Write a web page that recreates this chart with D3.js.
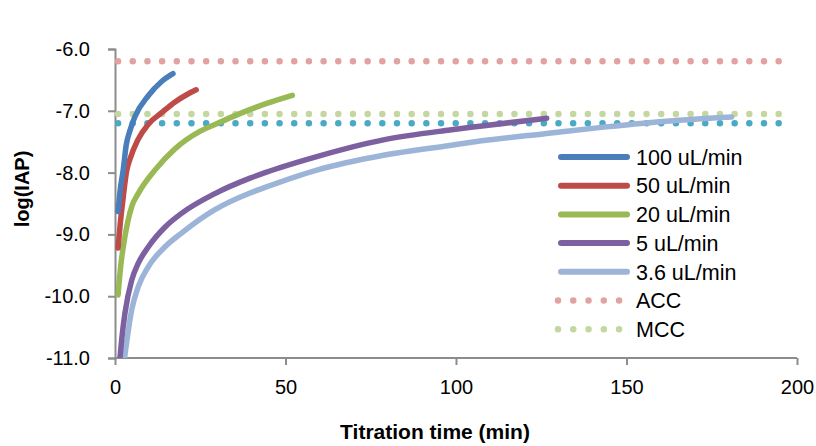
<!DOCTYPE html>
<html><head><meta charset="utf-8">
<script src="https://cdn.jsdelivr.net/npm/d3@7"></script>
<style>body{margin:0;background:#fff}svg{display:block}text{font-family:"Liberation Sans",Arial,sans-serif;fill:#000}</style>
</head><body><svg id="c" width="816" height="446"></svg>
<script>
const seriesNames = ["100 uL/min","50 uL/min","20 uL/min","5 uL/min","3.6 uL/min"];
const seriesColors = ["#4a7ebb","#be4b48","#98b954","#7d60a0","#9bb4d8"];
const t100 = [0.9,1.6,2.4,3.3,4.5,5.8,9.7,13.6,17];
const v100 = [-8.63,-8.25,-7.96,-7.55,-7.3,-7.1,-6.76,-6.53,-6.40];
const t50 = [0.9,1.5,2.3,3.4,4.4,6.7,9.7,13.7,17.5,21,23.8];
const v50 = [-9.22,-8.85,-8.45,-7.98,-7.78,-7.47,-7.22,-7.03,-6.86,-6.74,-6.66];
const t20 = [0.9,1.7,2.9,4.9,6.8,11.7,17.5,25,29.8,34.7,44.5,52];
const v20 = [-9.98,-9.5,-9.04,-8.55,-8.34,-7.96,-7.62,-7.33,-7.21,-7.09,-6.88,-6.75];
const t5 = [1.45,2.0,2.9,4.9,6.8,9.8,14.7,19.5,29.3,39.6,44,59.2,78.7,98.2,107,126.6];
const v5 = [-11.0,-10.68,-10.28,-9.74,-9.47,-9.2,-8.88,-8.66,-8.34,-8.09,-8.0,-7.74,-7.47,-7.31,-7.25,-7.12];
const t36 = [2.8,4.9,6.8,9.8,14.7,19.5,29.3,39.6,44,59.2,78.7,98.2,107,126,144,163.6,180.8];
const v36 = [-11.0,-10.22,-9.85,-9.52,-9.2,-8.98,-8.6,-8.33,-8.24,-7.96,-7.72,-7.56,-7.49,-7.37,-7.26,-7.16,-7.10];
const refNames = ["ACC","MCC",""];
const refValues = [-6.2,-7.05,-7.2];
const refColors = ["#e0a3a1","#c4d7a0","#4aa9c4"];
const refT = [0.9,198.8];
const xTicks = [0,50,100,150,200];
const yTicks = [-6,-7,-8,-9,-10,-11];

const svg = d3.select("#c");
const x = d3.scaleLinear().domain([0,200]).range([115,797]);
const y = d3.scaleLinear().domain([-11,-6]).range([358,49]);

svg.append("defs").append("clipPath").attr("id","clip").append("rect")
  .attr("x",115).attr("y",0).attr("width",700).attr("height",358);

const xa = svg.append("g").attr("transform","translate(0,358)")
  .call(d3.axisBottom(x).tickValues(xTicks).tickSize(7).tickPadding(15).tickFormat(d3.format("d")));
const ya = svg.append("g").attr("transform","translate(115,0)")
  .call(d3.axisLeft(y).tickValues(yTicks).tickSize(7).tickPadding(18).tickFormat(d3.format(".1f")));
[xa,ya].forEach(g=>{
  g.select(".domain").attr("stroke","#8c8c8c").attr("stroke-width",2);
  g.selectAll(".tick line").attr("stroke","#8c8c8c").attr("stroke-width",2);
  g.selectAll(".tick text").attr("font-size",20).attr("font-family","Liberation Sans, Arial, sans-serif").attr("fill","#000");
});
xa.selectAll(".tick text").attr("dy","0.71em");
ya.selectAll(".tick text").text(d=>d3.format(".1f")(d).replace("−","-"));
xa.select(".domain").attr("d","M115,0H797");

const plot = svg.append("g").attr("clip-path","url(#clip)");
refValues.forEach((v,i)=>{
  plot.append("path").datum(refT.map(t=>[t,v]))
    .attr("d",d3.line().x(d=>x(d[0])).y(d=>y(d[1])))
    .attr("fill","none").attr("stroke",refColors[i]).attr("stroke-width",6.5)
    .attr("stroke-linecap","round").attr("stroke-dasharray","0 14.68");
});
const ts=[t100,t50,t20,t5,t36], vs=[v100,v50,v20,v5,v36];
const line = d3.line().x(d=>x(d[0])).y(d=>y(d[1])).curve(d3.curveMonotoneX);
[4,3,2,1,0].forEach(i=>{
  plot.append("path").datum(ts[i].map((t,j)=>[t,vs[i][j]]))
    .attr("d",line).attr("fill","none").attr("stroke",seriesColors[i])
    .attr("stroke-width",5.5).attr("stroke-linecap","round").attr("stroke-linejoin","round");
});

const lg = svg.append("g");
const rowY = d3.range(7).map(i=>157+i*28.7);
seriesNames.forEach((n,i)=>{
  lg.append("line").attr("x1",561).attr("x2",627).attr("y1",rowY[i]).attr("y2",rowY[i])
    .attr("stroke",seriesColors[i]).attr("stroke-width",6).attr("stroke-linecap","round");
  lg.append("text").attr("x",636).attr("y",rowY[i]).attr("dy","0.36em").attr("font-size",21.5).text(n);
});
refNames.slice(0,2).forEach((n,i)=>{
  const yy=rowY[5+i];
  lg.append("line").attr("x1",558).attr("x2",619.1).attr("y1",yy).attr("y2",yy)
    .attr("stroke",refColors[i]).attr("stroke-width",6.5).attr("stroke-linecap","round").attr("stroke-dasharray","0 15.27");
  lg.append("text").attr("x",636).attr("y",yy).attr("dy","0.36em").attr("font-size",21.5).text(n);
});

svg.append("text").attr("x",435).attr("y",439).attr("text-anchor","middle")
  .attr("font-size",21).attr("font-weight","bold").text("Titration time (min)");
svg.append("text").attr("transform","translate(29,189) rotate(-90)").attr("text-anchor","middle")
  .attr("font-size",20).attr("font-weight","bold").text("log(IAP)");
</script></body></html>
